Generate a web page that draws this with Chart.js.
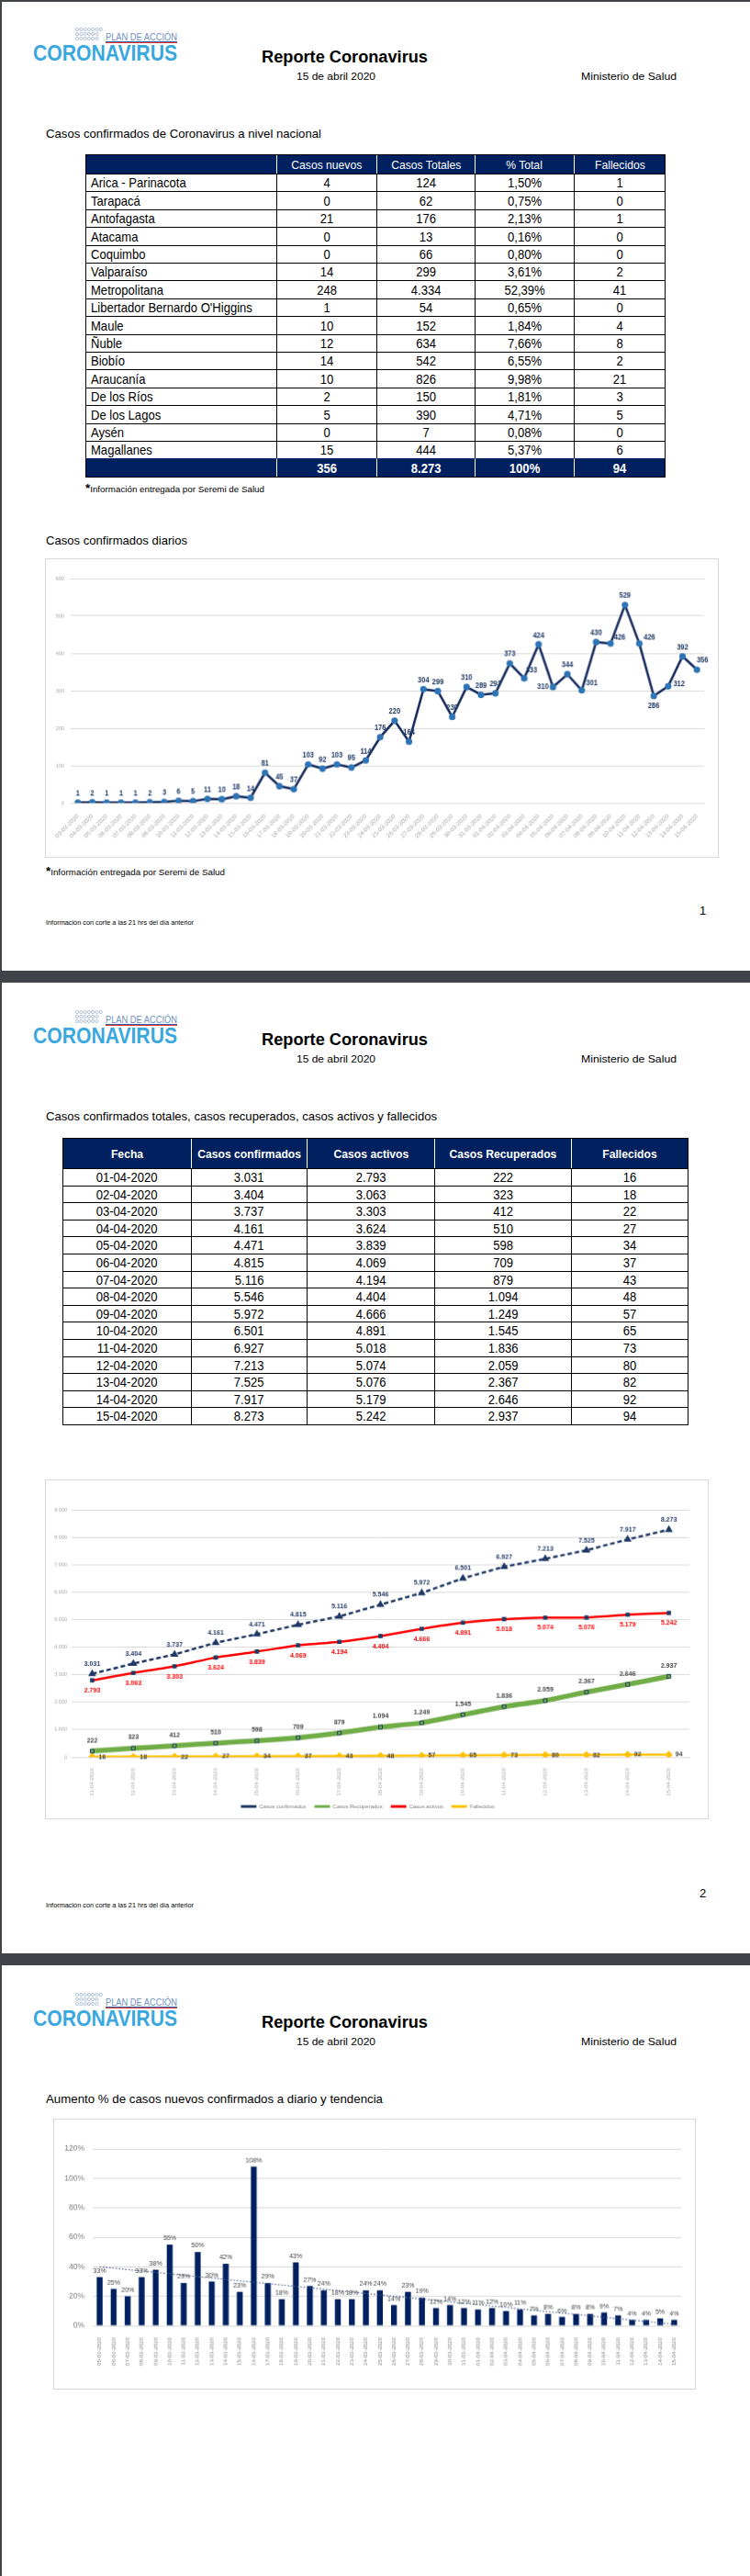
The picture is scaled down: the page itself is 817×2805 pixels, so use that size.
<!DOCTYPE html>
<html lang="es">
<head>
<meta charset="utf-8">
<title>Reporte Coronavirus - 15 de abril 2020</title>
<script src="https://cdn.jsdelivr.net/npm/chart.js@4.4.1/dist/chart.umd.min.js"></script>
<style>
html, body { margin: 0; padding: 0; }
body { width: 817px; height: 2805px; background: #404347; position: relative; overflow: hidden;
  font-family: 'Liberation Sans', Arial, sans-serif; color: #000; }
.pagina { position: absolute; left: 0; width: 817px; height: 1057px; background: #fff; box-shadow: inset 2px 0 0 #404347; }
.txt { position: absolute; white-space: nowrap; line-height: 1; transform-origin: left top; }
.celda { position: absolute; box-sizing: border-box; border-left: 1px solid #000; border-top: 1px solid #000;
  text-align: center; font-size: 14.5px; white-space: nowrap; }
.celda span { display: inline-block; transform: scaleX(.9); transform-origin: center; }
.celda.izq { text-align: left; padding-left: 5px; }
.celda.izq span { transform-origin: left center; }
.celda.navy { background: #002060; color: #fff; border-left-color: #fff; border-top-color: #002060; font-size: 13.5px; }
.marco { position: absolute; box-sizing: border-box; border: 1px solid #000; pointer-events: none; }
canvas { position: absolute; border: 1px solid #d9d9d9; }
</style>
</head>
<body>
<div class="pagina" id="p1" style="top:0; box-shadow: inset 2px 2px 0 #404347;"></div>
<div class="pagina" id="p2" style="top:1070px"></div>
<div class="pagina" id="p3" style="top:2140px; height:665px"></div>

<script>
// ---- datos tabla regional ----
const regiones = ['Arica - Parinacota', 'Tarapacá', 'Antofagasta', 'Atacama', 'Coquimbo', 'Valparaíso',
  'Metropolitana', "Libertador Bernardo O'Higgins", 'Maule', 'Ñuble', 'Biobío', 'Araucanía',
  'De los Ríos', 'De los Lagos', 'Aysén', 'Magallanes'];
const casosNuevosReg = [4, 0, 21, 0, 0, 14, 248, 1, 10, 12, 14, 10, 2, 5, 0, 15];
const casosTotalesReg = [124, 62, 176, 13, 66, 299, 4334, 54, 152, 634, 542, 826, 150, 390, 7, 444];
const pctTotalReg = ['1,50%', '0,75%', '2,13%', '0,16%', '0,80%', '3,61%', '52,39%', '0,65%',
  '1,84%', '7,66%', '6,55%', '9,98%', '1,81%', '4,71%', '0,08%', '5,37%'];
const fallecidosReg = [1, 0, 1, 0, 0, 2, 41, 0, 4, 8, 2, 21, 3, 5, 0, 6];
const totalesReg = ['356', '8.273', '100%', '94'];

// ---- casos confirmados diarios ----
const fechasDiarias = ['03-03-2020', '04-03-2020', '05-03-2020', '06-03-2020', '07-03-2020', '08-03-2020',
  '09-03-2020', '10-03-2020', '11-03-2020', '12-03-2020', '13-03-2020', '14-03-2020', '15-03-2020',
  '16-03-2020', '17-03-2020', '18-03-2020', '19-03-2020', '20-03-2020', '21-03-2020', '22-03-2020',
  '23-03-2020', '24-03-2020', '25-03-2020', '26-03-2020', '27-03-2020', '28-03-2020', '29-03-2020',
  '30-03-2020', '31-03-2020', '01-04-2020', '02-04-2020', '03-04-2020', '04-04-2020', '05-04-2020',
  '06-04-2020', '07-04-2020', '08-04-2020', '09-04-2020', '10-04-2020', '11-04-2020', '12-04-2020',
  '13-04-2020', '14-04-2020', '15-04-2020'];
const casosDiarios = [1, 2, 1, 1, 1, 2, 3, 6, 5, 11, 10, 18, 14, 81, 45, 37, 103, 92, 103, 95, 114, 176,
  220, 164, 304, 299, 230, 310, 289, 293, 373, 333, 424, 310, 344, 301, 430, 426, 529, 426, 286, 312, 392, 356];

// ---- totales abril ----
const fechasAbril = ['01-04-2020', '02-04-2020', '03-04-2020', '04-04-2020', '05-04-2020', '06-04-2020',
  '07-04-2020', '08-04-2020', '09-04-2020', '10-04-2020', '11-04-2020', '12-04-2020', '13-04-2020',
  '14-04-2020', '15-04-2020'];
const confirmados = [3031, 3404, 3737, 4161, 4471, 4815, 5116, 5546, 5972, 6501, 6927, 7213, 7525, 7917, 8273];
const activos = [2793, 3063, 3303, 3624, 3839, 4069, 4194, 4404, 4666, 4891, 5018, 5074, 5076, 5179, 5242];
const recuperados = [222, 323, 412, 510, 598, 709, 879, 1094, 1249, 1545, 1836, 2059, 2367, 2646, 2937];
const fallecidos = [16, 18, 22, 27, 34, 37, 43, 48, 57, 65, 73, 80, 82, 92, 94];

// ---- aumento % diario ----
const fechasAumento = ['05-03-2020', '06-03-2020', '07-03-2020', '08-03-2020', '09-03-2020', '10-03-2020',
  '11-03-2020', '12-03-2020', '13-03-2020', '14-03-2020', '15-03-2020', '16-03-2020', '17-03-2020',
  '18-03-2020', '19-03-2020', '20-03-2020', '21-03-2020', '22-03-2020', '23-03-2020', '24-03-2020',
  '25-03-2020', '26-03-2020', '27-03-2020', '28-03-2020', '29-03-2020', '30-03-2020', '31-03-2020',
  '01-04-2020', '02-04-2020', '03-04-2020', '04-04-2020', '05-04-2020', '06-04-2020', '07-04-2020',
  '08-04-2020', '09-04-2020', '10-04-2020', '11-04-2020', '12-04-2020', '13-04-2020', '14-04-2020', '15-04-2020'];
const aumentoDiario = [33, 25, 20, 33, 38, 55, 29, 50, 30, 42, 23, 108, 29, 18, 43, 27, 24, 18, 18, 24, 24,
  14, 23, 19, 12, 14, 12, 11, 12, 10, 11, 7, 8, 6, 8, 8, 9, 7, 4, 4, 5, 4];
const tendenciaInicio = 40;
const tendenciaFin = 1;

const FUENTE = "'Liberation Sans', Arial, sans-serif";
const miles = n => String(n).replace(/\B(?=(\d{3})+(?!\d))/g, '.');

// texto posicionado por su línea base; w = ancho objetivo
function texto(pag, x, yBase, size, w, html, extra) {
  const d = document.createElement('div');
  d.className = 'txt';
  d.style.cssText = `left:${x}px;top:${yBase - size * 0.86}px;font-size:${size}px;` + (extra || '');
  d.innerHTML = html;
  if (w) d.dataset.w = w;
  pag.appendChild(d);
  return d;
}

function encabezado(pag, num) {
  const svg = document.createElement('div');
  svg.style.cssText = 'position:absolute;left:81px;top:28px;';
  let c = '';
  [[4, 7], [9, 6], [14, 6]].forEach(([y, n]) => {
    for (let i = 0; i < n; i++) c += `<circle cx="${3 + i * 4.3}" cy="${y}" r="1.6" fill="none" stroke="#9fb2cf" stroke-width="0.8"/>`;
  });
  svg.innerHTML = `<svg width="31" height="18">${c}</svg>`;
  pag.appendChild(svg);
  texto(pag, 115, 44, 10.5, 78, 'PLAN DE ACCIÓN', 'color:#6f8fbf;');
  const l1 = document.createElement('div');
  l1.style.cssText = 'position:absolute;left:115px;top:45px;width:78px;height:1px;background:#2f5fa8;';
  const l2 = document.createElement('div');
  l2.style.cssText = 'position:absolute;left:115px;top:46px;width:78px;height:1px;background:#e3342f;';
  pag.appendChild(l1); pag.appendChild(l2);
  texto(pag, 36, 67, 24, 157, 'CORONAVIRUS', 'font-weight:bold;color:#3aa8de;');
  texto(pag, 285, 68, 18, 181, 'Reporte Coronavirus', 'font-weight:bold;');
  texto(pag, 323, 87.5, 11.5, 86, '15 de abril 2020');
  texto(pag, 633, 87.5, 11.5, 104, 'Ministerio de Salud');
  if (num) {
    texto(pag, 762, 996, 13, 0, String(num));
    texto(pag, 50, 1008, 6.5, 161, 'Información con corte a las 21 hrs del día anterior');
  }
}

function celda(pag, x, y, w, h, html, clase) {
  const d = document.createElement('div');
  d.className = 'celda ' + (clase || '');
  d.style.cssText = `left:${x}px;top:${y}px;width:${w}px;height:${h}px;line-height:${h}px;`;
  d.innerHTML = `<span>${html}</span>`;
  pag.appendChild(d);
}

function marco(pag, x, y, w, h, color) {
  const d = document.createElement('div');
  d.className = 'marco';
  d.style.cssText = `left:${x}px;top:${y}px;width:${w}px;height:${h}px;border-color:${color};`;
  pag.appendChild(d);
}

const p1 = document.getElementById('p1');
const p2 = document.getElementById('p2');
const p3 = document.getElementById('p3');
encabezado(p1, 1);
encabezado(p2, 2);
encabezado(p3, 0);

// ---------- página 1: tabla regional ----------
texto(p1, 50, 150.5, 13, 300, 'Casos confirmados de Coronavirus a nivel nacional');
{
  const xs = [93, 301, 410, 517, 625, 724];
  const ys = [168, 189];
  for (let i = 1; i <= 16; i++) ys.push(Math.round(189 + i * 19.4));
  ys.push(519);
  const cab = ['', 'Casos nuevos', 'Casos Totales', '% Total', 'Fallecidos'];
  cab.forEach((t, c) => celda(p1, xs[c], ys[0], xs[c + 1] - xs[c], ys[1] - ys[0], t, 'navy'));
  regiones.forEach((r, i) => {
    const fila = [r, casosNuevosReg[i], miles(casosTotalesReg[i]), pctTotalReg[i], fallecidosReg[i]];
    fila.forEach((t, c) => celda(p1, xs[c], ys[i + 1], xs[c + 1] - xs[c], ys[i + 2] - ys[i + 1], t, c === 0 ? 'izq' : ''));
  });
  ['', ...totalesReg].forEach((t, c) =>
    celda(p1, xs[c], ys[17], xs[c + 1] - xs[c], ys[18] - ys[17], `<b style="font-size:14.5px">${t}</b>`, 'navy'));
  marco(p1, 93, 168, 632, 352, '#000');
}
texto(p1, 93, 533, 9.5, 195, '<span style="font-size:13px;font-weight:bold">*</span>Información entregada por Seremi de Salud');

// ---------- página 1: gráfico casos diarios ----------
texto(p1, 50, 593, 13, 154, 'Casos confirmados diarios');
texto(p1, 50, 950, 9.5, 195, '<span style="font-size:13px;font-weight:bold">*</span>Información entregada por Seremi de Salud');

const pluginEtiquetas = {
  id: 'etiquetas',
  afterDatasetsDraw(chart) {
    const ctx = chart.ctx;
    chart.data.datasets.forEach((ds, i) => {
      const e = ds.etiqueta;
      if (!e) return;
      chart.getDatasetMeta(i).data.forEach((el, j) => {
        const v = ds.data[j];
        if (v == null) return;
        const off = (e.ajustes && e.ajustes[j]) || [e.dx || 0, e.dy || 0];
        ctx.save();
        ctx.translate(el.x + off[0], el.y + off[1]);
        ctx.scale(e.escala || 0.88, 1);
        ctx.font = e.fuente;
        ctx.fillStyle = e.color;
        ctx.textAlign = e.alinear || 'center';
        ctx.textBaseline = 'middle';
        ctx.fillText(e.formato ? e.formato(v) : String(v), 0, 0);
        ctx.restore();
      });
    });
  }
};

Chart.defaults.font.family = FUENTE;
Chart.defaults.animation = false;
Chart.defaults.color = '#a6a6a6';

function lienzo(pag, id, x, y, w, h) {
  const c = document.createElement('canvas');
  c.id = id;
  c.width = w; c.height = h;
  c.style.left = (x - 1) + 'px';
  c.style.top = (y - 1) + 'px';
  pag.appendChild(c);
  return c;
}

new Chart(lienzo(p1, 'graficoDiario', 50, 609, 734, 326), {
  type: 'line',
  data: {
    labels: fechasDiarias,
    datasets: [{
      label: 'Casos confirmados diarios',
      data: casosDiarios,
      borderColor: '#172c5c',
      borderWidth: 2.6,
      pointRadius: 2.3,
      pointBackgroundColor: '#2e75b6',
      pointBorderColor: '#2e75b6',
      tension: 0,
      etiqueta: {
        fuente: `bold 8.5px ${FUENTE}`, color: '#1f3864', dy: -10,
        ajustes: { 31: [8, -9], 33: [-11, 0], 35: [11, -8], 37: [10, -7], 39: [11, -7], 40: [0, 11], 41: [12, -2], 43: [6, -10] }
      }
    }]
  },
  options: {
    responsive: false,
    layout: { padding: { top: 21, right: 15, left: 0, bottom: 0 } },
    plugins: { legend: { display: false }, tooltip: { enabled: false } },
    scales: {
      x: {
        offset: true,
        grid: { display: false },
        border: { color: '#d9d9d9' },
        ticks: { autoSkip: false, minRotation: 45, maxRotation: 45, font: { size: 6.5 }, color: '#a6a6a6', padding: 3 },
        afterFit(s) { s.height = 59; s.paddingLeft = 0; s.paddingRight = 0; }
      },
      y: {
        min: 0, max: 600,
        ticks: { stepSize: 100, font: { size: 5.5 }, color: '#a6a6a6', padding: 7 },
        grid: { color: '#d9d9d9', drawTicks: false },
        border: { display: false },
        afterFit(s) { s.width = 27; }
      }
    }
  },
  plugins: [pluginEtiquetas]
});

// ---------- página 2: tabla totales ----------
texto(p2, 50, 150, 13, 426, 'Casos confirmados totales, casos recuperados, casos activos y fallecidos');
{
  const xs = [68, 208, 334, 473, 622, 749];
  const ys = [169, 202];
  for (let i = 1; i <= 15; i++) ys.push(Math.round(202 + i * 18.6));
  const cab = ['Fecha', 'Casos confirmados', 'Casos activos', 'Casos Recuperados', 'Fallecidos'];
  cab.forEach((t, c) => celda(p2, xs[c], ys[0], xs[c + 1] - xs[c], ys[1] - ys[0], `<b>${t}</b>`, 'navy'));
  fechasAbril.forEach((f, i) => {
    const fila = [f, miles(confirmados[i]), miles(activos[i]), miles(recuperados[i]), fallecidos[i]];
    fila.forEach((t, c) => celda(p2, xs[c], ys[i + 1], xs[c + 1] - xs[c], ys[i + 2] - ys[i + 1], t));
  });
  marco(p2, 68, 169, 682, ys[16] - 169 + 1, '#000');
}

// ---------- página 2: gráfico evolución ----------
new Chart(lienzo(p2, 'graficoTotales', 50, 542, 723, 370), {
  type: 'line',
  data: {
    labels: fechasAbril,
    datasets: [
      {
        label: 'Casos confirmados', data: confirmados,
        borderColor: '#1f3864', backgroundColor: '#1f3864', borderWidth: 2.5, borderDash: [5, 3],
        pointStyle: 'triangle', pointRadius: 2.5, pointBackgroundColor: '#1f3864',
        etiqueta: { fuente: `bold 8px ${FUENTE}`, color: '#203864', dy: -11, formato: miles }
      },
      {
        label: 'Casos Recuperados', data: recuperados,
        borderColor: '#70ad47', backgroundColor: '#70ad47', borderWidth: 5.5,
        pointStyle: 'rect', pointRadius: 2.8, pointBackgroundColor: '#70ad47', pointBorderColor: '#1f3864', pointBorderWidth: 1,
        tension: 0.15,
        etiqueta: { fuente: `bold 8px ${FUENTE}`, color: '#404040', dy: -12, formato: miles }
      },
      {
        label: 'Casos activos', data: activos,
        borderColor: '#ff0000', backgroundColor: '#ff0000', borderWidth: 2.5,
        pointStyle: 'rect', pointRadius: 1.5, pointBackgroundColor: '#1f3864', pointBorderColor: '#1f3864',
        tension: 0.15,
        etiqueta: { fuente: `bold 8px ${FUENTE}`, color: '#ff0000', dy: 11, formato: miles }
      },
      {
        label: 'Fallecidos', data: fallecidos,
        borderColor: '#ffc000', backgroundColor: '#ffc000', borderWidth: 2.5,
        pointStyle: 'rectRot', pointRadius: 2.5, pointBackgroundColor: '#ffc000', pointBorderColor: '#ffc000',
        etiqueta: { fuente: `bold 8px ${FUENTE}`, color: '#404040', dx: 7, dy: 0, alinear: 'left' }
      }
    ]
  },
  options: {
    responsive: false,
    layout: { padding: { top: 32, right: 20, left: 0, bottom: 0 } },
    plugins: {
      tooltip: { enabled: false },
      legend: {
        position: 'bottom',
        labels: {
          font: { size: 6 }, color: '#7f7f7f', boxWidth: 17, boxHeight: 3, padding: 9,
          generateLabels(chart) {
            return chart.data.datasets.map((ds, i) => ({
              text: ds.label, fillStyle: ds.borderColor, strokeStyle: ds.borderColor,
              lineWidth: 0, hidden: false, datasetIndex: i, fontColor: '#7f7f7f'
            }));
          }
        }
      }
    },
    scales: {
      x: {
        offset: true,
        grid: { display: false },
        border: { color: '#d9d9d9' },
        ticks: { autoSkip: false, minRotation: 90, maxRotation: 90, font: { size: 6 }, color: '#a6a6a6', padding: 4 },
        afterFit(s) { s.height = 42; s.paddingLeft = 0; s.paddingRight = 0; }
      },
      y: {
        min: 0, max: 9000,
        ticks: { stepSize: 1000, font: { size: 5.5 }, color: '#a6a6a6', padding: 5, callback: v => miles(v) },
        grid: { color: '#d9d9d9', drawTicks: false },
        border: { display: false },
        afterFit(s) { s.width = 28; }
      }
    }
  },
  plugins: [pluginEtiquetas]
});

// ---------- página 3: aumento % ----------
texto(p3, 50, 151, 13.5, 367, 'Aumento % de casos nuevos confirmados a diario y tendencia');

new Chart(lienzo(p3, 'graficoAumento', 59, 168, 700, 295), {
  type: 'bar',
  data: {
    labels: fechasAumento,
    datasets: [
      {
        type: 'line',
        label: 'Tendencia',
        data: [{ x: fechasAumento[0], y: tendenciaInicio }, { x: fechasAumento[fechasAumento.length - 1], y: tendenciaFin }],
        borderColor: '#4a5f8c', borderWidth: 1.2, borderDash: [1.5, 2], pointRadius: 0, order: 0
      },
      {
        label: 'Aumento % casos nuevos',
        data: aumentoDiario,
        backgroundColor: '#002060',
        barPercentage: 0.42, categoryPercentage: 1,
        order: 1,
        etiqueta: { fuente: `8px ${FUENTE}`, color: '#404040', dy: -7, formato: v => v + '%' }
      }
    ]
  },
  options: {
    responsive: false,
    layout: { padding: { top: 32, right: 15, left: 0, bottom: 0 } },
    plugins: { legend: { display: false }, tooltip: { enabled: false } },
    scales: {
      x: {
        grid: { display: false },
        border: { color: '#d9d9d9' },
        ticks: { autoSkip: false, minRotation: 90, maxRotation: 90, font: { size: 6 }, color: '#7f7f7f', padding: 5 },
        afterFit(s) { s.height = 69; s.paddingLeft = 0; s.paddingRight = 0; }
      },
      y: {
        min: 0, max: 120,
        ticks: { stepSize: 20, font: { size: 8.5 }, color: '#7f7f7f', padding: 9, callback: v => v + '%' },
        grid: { color: '#d9d9d9', drawTicks: false },
        border: { display: false },
        afterFit(s) { s.width = 42; }
      }
    }
  },
  plugins: [pluginEtiquetas]
});

// ajustar textos al ancho del original
document.querySelectorAll('.txt[data-w]').forEach(el => {
  const w = el.getBoundingClientRect().width;
  if (w > 0) el.style.transform = `scaleX(${el.dataset.w / w})`;
});
</script>
</body>
</html>
